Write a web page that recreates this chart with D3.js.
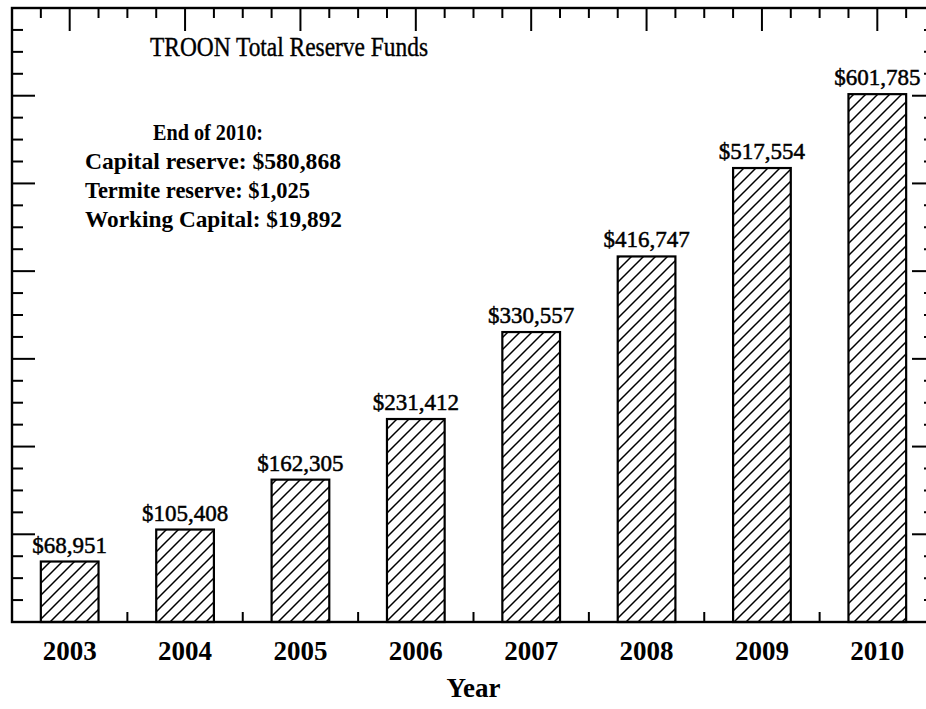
<!DOCTYPE html>
<html>
<head>
<meta charset="utf-8">
<script src="https://cdn.jsdelivr.net/npm/d3@7"></script>
<style>
  html, body { margin: 0; padding: 0; background: #fff; }
  svg { display: block; }
  text { font-family: "Liberation Serif", "Times New Roman", serif; fill: #000; }
</style>
</head>
<body>
<svg id="chart" width="926" height="709"></svg>
<script>
const years = ["2003", "2004", "2005", "2006", "2007", "2008", "2009", "2010"];
const reserveFunds = [68951, 105408, 162305, 231412, 330557, 416747, 517554, 601785];
const valueLabels = ["$68,951", "$105,408", "$162,305", "$231,412", "$330,557", "$416,747", "$517,554", "$601,785"];
const titleText = "TROON Total Reserve Funds";
const noteLines = ["Capital reserve: $580,868", "Termite reserve: $1,025", "Working Capital: $19,892"];
const noteHeader = "End of 2010:";
const xTitle = "Year";
const yMax = 700000;

const svg = d3.select("#chart");
const L = 12, R = 935, T = 8, B = 622;

const x = d3.scaleBand().domain(years).range([L, R]).paddingInner(0.5).paddingOuter(0.25);
const xl = d3.scaleLinear().domain([2002.5, 2010.5]).range([L, R]);
const y = d3.scaleLinear().domain([0, yMax]).range([B, T]);

// hatch pattern
const defs = svg.append("defs");
const pat = defs.append("pattern").attr("id", "hatch").attr("patternUnits", "userSpaceOnUse")
  .attr("width", 12).attr("height", 12);
pat.append("rect").attr("width", 12).attr("height", 12).attr("fill", "#fff");
pat.append("path").attr("d", "M-3,3 L3,-3 M0,12 L12,0 M9,15 L15,9")
  .attr("stroke", "#000").attr("stroke-width", 1.5);

// bars
svg.append("g").selectAll("rect").data(years).join("rect")
  .attr("x", d => x(d)).attr("width", x.bandwidth())
  .attr("y", (d, i) => y(reserveFunds[i]))
  .attr("height", (d, i) => y(0) - y(reserveFunds[i]))
  .attr("fill", "url(#hatch)").attr("stroke", "#000").attr("stroke-width", 2.2);

// value labels
svg.append("g").selectAll("text").data(years).join("text")
  .attr("x", d => x(d) + x.bandwidth() / 2)
  .attr("y", (d, i) => y(reserveFunds[i]) - 9)
  .attr("text-anchor", "middle").attr("font-size", 23)
  .attr("stroke", "#000").attr("stroke-width", 0.5)
  .text((d, i) => valueLabels[i]);

// frame
svg.append("rect").attr("x", L).attr("y", T).attr("width", R - L).attr("height", B - T)
  .attr("fill", "none").attr("stroke", "#000").attr("stroke-width", 2.4);

// left and right ticks
const yTicks = d3.range(0, yMax + 1, 25000);
svg.append("g").selectAll("line").data(yTicks).join("line")
  .attr("x1", L).attr("x2", v => L + (v % 100000 === 0 ? 23 : 11))
  .attr("y1", v => y(v)).attr("y2", v => y(v))
  .attr("stroke", "#000").attr("stroke-width", 2);
svg.append("g").selectAll("line").data(yTicks).join("line")
  .attr("x1", R).attr("x2", v => R - (v % 100000 === 0 ? 23 : 11))
  .attr("y1", v => y(v)).attr("y2", v => y(v))
  .attr("stroke", "#000").attr("stroke-width", 2);

// top ticks
const topTicks = d3.range(2002.5, 2010.51, 0.25);
svg.append("g").selectAll("line").data(topTicks).join("line")
  .attr("x1", v => xl(v)).attr("x2", v => xl(v))
  .attr("y1", T).attr("y2", v => T + (Number.isInteger(v) ? 23 : 10))
  .attr("stroke", "#000").attr("stroke-width", 2);

// bottom ticks (between categories)
const bottomTicks = d3.range(2003.5, 2010, 1);
svg.append("g").selectAll("line").data(bottomTicks).join("line")
  .attr("x1", v => xl(v)).attr("x2", v => xl(v))
  .attr("y1", B).attr("y2", B - 10)
  .attr("stroke", "#000").attr("stroke-width", 2);

// x axis labels
svg.append("g").selectAll("text").data(years).join("text")
  .attr("x", d => x(d) + x.bandwidth() / 2).attr("y", 660)
  .attr("text-anchor", "middle").attr("font-size", 27).attr("font-weight", "bold")
  .text(d => d);

svg.append("text").attr("x", (L + R) / 2).attr("y", 697)
  .attr("text-anchor", "middle").attr("font-size", 27).attr("font-weight", "bold")
  .text(xTitle);

// title
svg.append("text").attr("x", 150).attr("y", 56).attr("font-size", 28)
  .attr("stroke", "#000").attr("stroke-width", 0.4)
  .attr("textLength", 278).attr("lengthAdjust", "spacingAndGlyphs")
  .text(titleText);

// note
svg.append("text").attr("x", 153).attr("y", 140)
  .attr("font-size", 24).attr("font-weight", "bold")
  .attr("textLength", 110).attr("lengthAdjust", "spacingAndGlyphs")
  .text(noteHeader);
const noteWidths = [256, 225, 257];
svg.append("g").selectAll("text").data(noteLines).join("text")
  .attr("x", 85).attr("y", (d, i) => 169 + i * 29)
  .attr("font-size", 24).attr("font-weight", "bold")
  .attr("textLength", (d, i) => noteWidths[i]).attr("lengthAdjust", "spacingAndGlyphs")
  .text(d => d);
</script>
</body>
</html>
